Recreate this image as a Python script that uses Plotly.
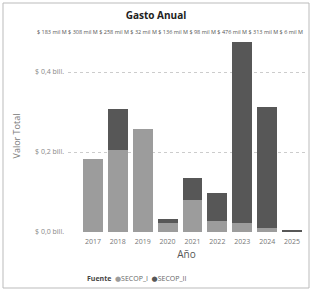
import plotly.graph_objects as go

years = ["2017", "2018", "2019", "2020", "2021", "2022", "2023", "2024", "2025"]
secop_i = [183, 205, 258, 22, 80, 28, 22, 10, 0]
secop_ii = [0, 103, 0, 10, 56, 70, 454, 303, 6]
y_ticks = [0, 200, 400]
y_tick_labels = ["$ 0,0 bill.", "$ 0,2 bill.", "$ 0,4 bill."]
series_names = ["SECOP_I", "SECOP_II"]
series_colors = ["#9c9c9c", "#575757"]

totals = [a + b for a, b in zip(secop_i, secop_ii)]
label_line = " ".join(f"$ {t} mil M" for t in totals)

FONT = "Segoe UI, Open Sans, DejaVu Sans, sans-serif"
W, H = 312, 290
L, R, T, B = 68, 7, 40, 58
pw, ph = W - L - R, H - T - B

def px(x):
    return (x - L) / pw

def py(y):
    return (H - B - y) / ph

fig = go.Figure()
for name, vals, col in zip(series_names, [secop_i, secop_ii], series_colors):
    fig.add_trace(go.Bar(x=years, y=vals, name=name, showlegend=False,
                         marker=dict(color=col, line=dict(width=0))))

legend_text = "<b>Fuente</b>  " + "  ".join(
    f"<span style='color:{c}'>●</span><span style='color:#666666'>{n}</span>"
    for n, c in zip(series_names, series_colors))

fig.update_layout(
    width=W, height=H,
    margin=dict(l=L, r=R, t=T, b=B),
    barmode="stack", bargap=0.2,
    paper_bgcolor="white", plot_bgcolor="white",
    font=dict(family=FONT, color="#666666", size=7),
    title=dict(text="<b>Gasto Anual</b>", x=0.5, xanchor="center", y=1 - 15 / H, yanchor="middle",
               font=dict(size=10, color="#222222", family=FONT)),
    showlegend=False,
    xaxis=dict(type="category", range=[-1.0, 8.52], showgrid=False, showline=False, zeroline=False,
               ticks="", tickfont=dict(size=7, color="#777777"), ticklabelstandoff=4,
               title=dict(text="Año", font=dict(size=10, color="#555555"), standoff=5)),
    yaxis=dict(range=[0, 480], tickvals=y_ticks, ticktext=y_tick_labels, showgrid=True,
               gridcolor="#cccccc", griddash="dot", gridwidth=1, zeroline=False, showline=False,
               tickfont=dict(size=7, color="#888888"), ticks="", ticklabelstandoff=3,
               title=dict(text="Valor Total", font=dict(size=9, color="#777777"), standoff=12)),
    annotations=[
        dict(text=label_line, x=px(305), y=py(32), xref="paper", yref="paper",
             xanchor="right", yanchor="middle", showarrow=False,
             font=dict(size=5.5, color="#555555", family=FONT)),
        dict(text=legend_text, x=px(85), y=py(278), xref="paper", yref="paper",
             xanchor="left", yanchor="middle", showarrow=False,
             font=dict(size=7, color="#444444", family=FONT)),
    ],
    shapes=[dict(type="rect", xref="paper", yref="paper", x0=px(3), x1=px(309), y0=py(288), y1=py(3),
                 line=dict(color="#bbbbbb", width=1), fillcolor="rgba(0,0,0,0)")],
)

fig.write_html("out.html", config={"displayModeBar": False},
               post_script="document.body.style.margin='0';document.body.style.overflow='hidden';")
